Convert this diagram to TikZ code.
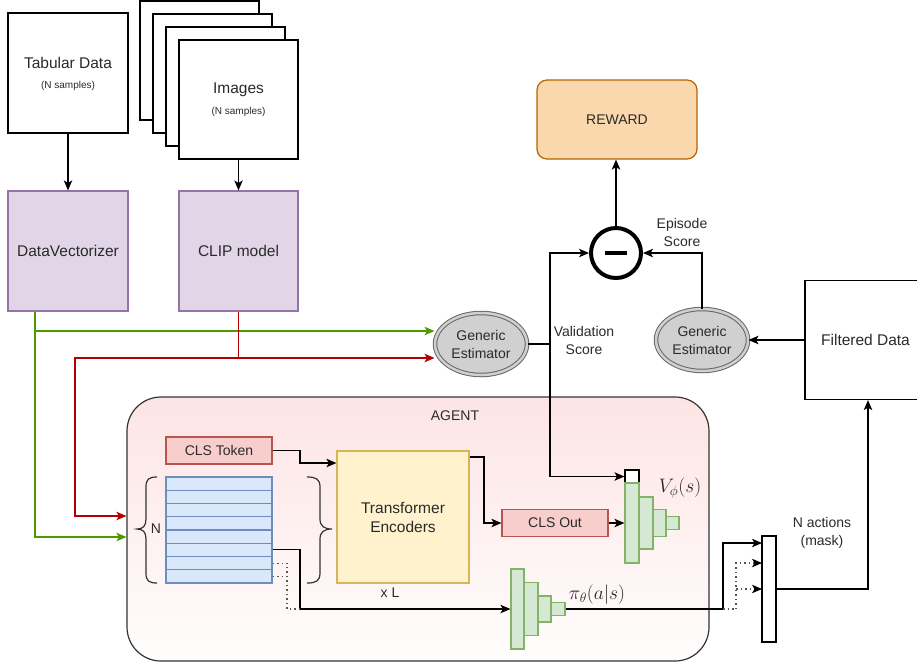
\RequirePackage{fix-cm}
\documentclass[tikz,border=0pt]{standalone}
\usepackage[no-math]{fontspec}
\setmainfont{Liberation Sans}
\usetikzlibrary{arrows.meta,shapes.geometric}
\definecolor{txt}{HTML}{2A2A2A}
\definecolor{purfill}{HTML}{E1D5E7}
\definecolor{purline}{HTML}{9673A6}
\definecolor{rewfill}{HTML}{FAD7AC}
\definecolor{rewline}{HTML}{B46504}
\definecolor{redfill}{HTML}{F8CECC}
\definecolor{redline}{HTML}{B85450}
\definecolor{yelfill}{HTML}{FFF2CC}
\definecolor{yelline}{HTML}{D6B656}
\definecolor{bluefill}{HTML}{DAE8FC}
\definecolor{blueline}{HTML}{6C8EBF}
\definecolor{grnfill}{HTML}{D5E8D4}
\definecolor{grnline}{HTML}{82B366}
\definecolor{estfill}{HTML}{D0D0D0}
\definecolor{estline}{HTML}{666666}
\definecolor{agtop}{HTML}{FDE4E4}
\definecolor{agbot}{HTML}{FFFDFD}
\definecolor{gline}{HTML}{4D9900}
\definecolor{rline}{HTML}{B20000}
\definecolor{dotc}{HTML}{555555}
\definecolor{darkg}{HTML}{333333}
\begin{document}
\begin{tikzpicture}[x=1pt,y=-1pt,
  big/.style={font=\fontsize{15.5}{19}\selectfont, text=txt, align=center, inner sep=0pt},
  med/.style={font=\fontsize{14}{18}\selectfont, text=txt, align=center, inner sep=0pt},
  small/.style={font=\fontsize{10}{12}\selectfont, text=txt, align=center, inner sep=0pt},
  mathlbl/.style={font=\fontsize{19.5}{23}\selectfont, text=txt, inner sep=0pt},
  blk/.style={draw=black, line width=1.2pt, fill=white, inner sep=0pt},
  arr/.style={draw=black, line width=1.2pt, -{Stealth[length=10pt,width=8.5pt,inset=2.5pt]}},
  garr/.style={draw=gline, line width=1.2pt, -{Stealth[length=10pt,width=8.5pt,inset=2.5pt]}},
  rarr/.style={draw=rline, line width=1.2pt, -{Stealth[length=10pt,width=8.5pt,inset=2.5pt]}},
  dotarr/.style={draw=dotc, line width=1.1pt, dash pattern=on 1.5pt off 3pt, -{Stealth[length=10pt,width=8.5pt,inset=2.5pt,color=black]}},
  dotln/.style={draw=dotc, line width=1.1pt, dash pattern=on 1.5pt off 3pt},
  pyr/.style={draw=grnline, fill=grnfill, line width=1.2pt, inner sep=0pt},
  est/.style={ellipse, draw=estline, fill=estfill, line width=1pt, double=estfill, double distance=2.5pt, minimum width=92pt, minimum height=62pt, med},
  row/.style={draw=blueline, fill=bluefill, line width=1.1pt, minimum width=106pt, minimum height=13.25pt, inner sep=0pt}
]
\useasboundingbox (0,0) rectangle (917,665);

% ---- input data ----
\node[blk, minimum width=120pt, minimum height=120pt] (tab) at (68,73) {};
\node[big] (tabT) at (68,63) {Tabular Data};
\node[small] (tabS) at (68,86) {(N samples)};

\node[blk, minimum width=119pt, minimum height=119pt] (img1) at (199.5,60.5) {};
\node[blk, minimum width=119pt, minimum height=119pt] (img2) at (212.5,73.5) {};
\node[blk, minimum width=119pt, minimum height=119pt] (img3) at (225.5,86.5) {};
\node[blk, minimum width=119pt, minimum height=119pt] (img4) at (238.5,99.5) {};
\node[big] (imgT) at (238.5,90) {Images};
\node[small] (imgS) at (238.5,112) {(N samples)};

\node[big, draw=purline, fill=purfill, line width=1.2pt, minimum width=120pt, minimum height=120pt] (dv) at (68,251) {DataVectorizer};
\node[big, draw=purline, fill=purfill, line width=1.2pt, minimum width=119pt, minimum height=120pt] (clip) at (238.5,251) {CLIP model};

\draw[arr] (tab.south) -- (dv.north);
\draw[arr] (img4.south) -- (clip.north);

% ---- estimators, reward ----
\node[est] (est1) at (481,344) {Generic\\Estimator};
\node[est] (est2) at (702,340) {Generic\\Estimator};
\node[circle, draw=black, line width=4pt, minimum size=50pt, inner sep=0pt] (minus) at (616,253) {};
\draw[line width=4pt, black] ([xshift=-11pt]minus.center) -- ([xshift=11pt]minus.center);
\node[med, draw=rewline, fill=rewfill, line width=1.2pt, rounded corners=10pt, minimum width=160pt, minimum height=79pt] (reward) at (617,119.5) {REWARD};
\node[big, blk, minimum width=121pt, minimum height=119pt] (filt) at (865.5,340) {Filtered Data};

\node[med] (vlab) at (584,340) {Validation\\Score};
\node[med] (elab) at (682,232) {Episode\\Score};

% ---- agent ----
\node[draw=darkg, line width=1.2pt, rounded corners=34pt, top color=agtop, bottom color=agbot, minimum width=582pt, minimum height=264pt, inner sep=0pt] (agent) at (418,529) {};
\node[med] (agentT) at (455,416) {AGENT};

\node[med, draw=redline, fill=redfill, line width=1.2pt, minimum width=106pt, minimum height=27pt] (clstok) at (219,450.5) {CLS Token};
\node[big, draw=yelline, fill=yelfill, line width=1.2pt, minimum width=132pt, minimum height=132pt] (trans) at (403,517) {Transformer\\Encoders};
\node[med] (xl) at (390,593) {x L};
\node[med, draw=redline, fill=redfill, line width=1.2pt, minimum width=106pt, minimum height=27pt] (clsout) at (555,523) {CLS Out};

\foreach \i in {1,...,8} {
  \node[row] (r\i) at (219,{477+13.25*(\i-0.5)}) {};
}
% braces
\draw[draw=darkg, line width=1.2pt]
  (157,477) .. controls (149,477) and (146,479) .. (146,487) -- (146,519)
  .. controls (146,526) and (143,529) .. (137,529)
  .. controls (143,529) and (146,532) .. (146,539) -- (146,573)
  .. controls (146,581) and (149,583) .. (157,583);
\draw[draw=darkg, line width=1.2pt]
  (307,477) .. controls (316,477) and (320,479) .. (320,487) -- (320,519)
  .. controls (320,526) and (324,529) .. (332,529)
  .. controls (324,529) and (320,532) .. (320,539) -- (320,573)
  .. controls (320,581) and (316,583) .. (307,583);
\node[med] (nlab) at (156,529) {N};

% value pyramid
\node[draw=black, fill=white, line width=1.2pt, minimum width=14pt, minimum height=13pt, inner sep=0pt] (vsq) at (632,476.5) {};
\node[pyr, minimum width=14pt, minimum height=80pt] (v1) at (632,523) {};
\node[pyr, minimum width=14pt, minimum height=52pt] (v2) at (646,523) {};
\node[pyr, minimum width=13pt, minimum height=27pt] (v3) at (659.5,523) {};
\node[pyr, minimum width=13pt, minimum height=13pt] (v4) at (672.5,523) {};
\node[mathlbl] (vlbl) at (680,488) {$V_\phi(s)$};

% policy pyramid
\node[pyr, minimum width=13pt, minimum height=80pt] (p1) at (517.5,609) {};
\node[pyr, minimum width=14pt, minimum height=53pt] (p2) at (531,609) {};
\node[pyr, minimum width=13pt, minimum height=26pt] (p3) at (544.5,609) {};
\node[pyr, minimum width=14pt, minimum height=13pt] (p4) at (558,609) {};
\node[mathlbl] (plbl) at (597,595) {$\pi_\theta(a|s)$};

% mask
\node[blk, minimum width=14pt, minimum height=106pt] (mask) at (769,589) {};
\node[med] (mlab) at (822,533) {N actions\\(mask)};

% ---- coordinates ----
\coordinate (g0) at (35,331);
\coordinate (g1) at (35,537);
\coordinate (q0) at (238.5,358);
\coordinate (q1) at (75,358);
\coordinate (q2) at (75,516);
\coordinate (vs) at (550,344);
\coordinate (m1) at (868,589);
\coordinate (b1) at (300,463);
\coordinate (b2) at (484,457);
\coordinate (b3) at (300,609);
\coordinate (d1) at (287,609);
\coordinate (b4) at (723,609);
\coordinate (d2) at (736,609);
\coordinate (mi1) at (762,543);
\coordinate (mi2) at (762,563);
\coordinate (mi3) at (762,589);
\coordinate (d3) at (736,589);

% ---- connectors ----
\draw[garr] (dv.south -| g0) -- (g1) -- (agent.west |- g1);
\draw[garr] (g0) -- (est1.west |- g0);
\draw[rarr] (clip.south) -- (q0) -- (q1) -- (q2) -- (agent.west |- q2);
\draw[rarr] (q0) -- (est1.west |- q0);

\draw[arr] (est1.east) -- (vs) -- (vs |- minus.west) -- (minus.west);
\draw[arr] (vs) -- (vs |- vsq.west) -- (vsq.west);
\draw[arr] (est2.north) -- (est2.north |- minus.east) -- (minus.east);
\draw[arr] (minus.north) -- (minus.north |- reward.south);
\draw[arr] (filt.west) -- (est2.east);
\draw[arr] (mask.east |- m1) -- (m1) -- (m1 |- filt.south);

\draw[arr] (clstok.east) -| (b1) -- (trans.west |- b1);
\draw[arr] (trans.east |- b2) -- (b2) |- (clsout.west);
\draw[arr] (clsout.east) -- (v1.west);
\draw[arr] (r6.east) -| (b3) -- (p1.west);
\draw[dotln] (r7.east) -| (d1) -- (b3);
\draw[dotln] (r8.east) -- (r8.east -| d1);
\draw[arr] (p4.east) -- (b4) |- (mi1);
\draw[dotln] (b4) -- (d2);
\draw[dotarr] (d2) |- (mi2);
\draw[dotarr] (d3) -- (mi3);
\end{tikzpicture}
\end{document}
